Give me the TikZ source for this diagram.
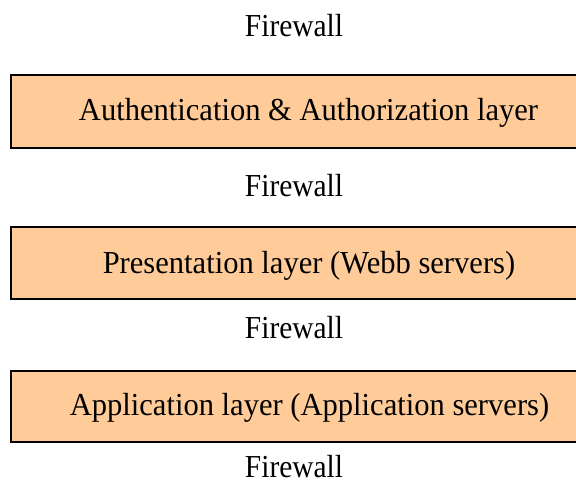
\documentclass[tikz,border=0pt]{standalone}
\usepackage{fontspec}
\setmainfont[FakeStretch=0.92]{Liberation Serif}
\newfontfamily\layerfont[FakeStretch=0.955]{Liberation Serif}
\definecolor{layerfill}{HTML}{FFCC99}
\begin{document}
\begin{tikzpicture}[x=1pt,y=-1pt,
  layerbox/.style={draw=black,line width=1.3pt,fill=layerfill},
  label/.style={anchor=base,inner sep=0pt,font=\fontsize{32}{36}\selectfont},
  layertitle/.style={label,font=\layerfont\fontsize{32}{36}\selectfont}]
\useasboundingbox (0,0) rectangle (576,486);
% layer boxes (right side runs past the page edge)
\draw[layerbox] (11,75) rectangle (600,148);
\draw[layerbox] (11,227) rectangle (600,299);
\draw[layerbox] (11,371) rectangle (600,442);
% firewall labels between layers
\node[label] (fw1) at (294,37) {Firewall};
\node[label] (fw2) at (294,197) {Firewall};
\node[label] (fw3) at (294,339) {Firewall};
\node[label] (fw4) at (294,477) {Firewall};
% layer titles
\node[layertitle] (auth) at (308.5,121) {Authentication \& Authorization layer};
\node[layertitle] (pres) at (309,274) {Presentation layer (Webb servers)};
\node[layertitle] (app) at (309.5,416) {Application layer (Application servers)};
\end{tikzpicture}
\end{document}
